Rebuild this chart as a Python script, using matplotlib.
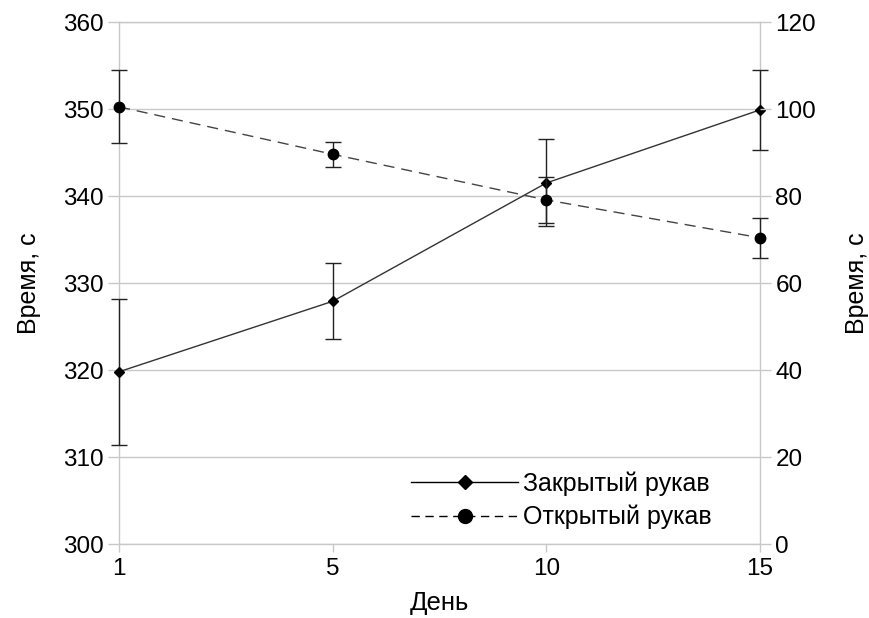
import matplotlib
matplotlib.use("Agg")
import matplotlib.pyplot as plt
from matplotlib.lines import Line2D

plt.rcParams['font.family'] = ['Liberation Sans', 'DejaVu Sans']

days = ['1', '5', '10', '15']
closed_arm = [319.8, 327.9, 341.5, 349.9]
closed_err = [8.4, 4.35, 5.0, 4.6]
open_arm = [100.5, 89.6, 79.1, 70.4]
open_err = [8.4, 2.9, 5.2, 4.6]

left_ticks = [300, 310, 320, 330, 340, 350, 360]
right_ticks = [0, 20, 40, 60, 80, 100, 120]

grid_c = '#c8c8c8'
pos = list(range(len(days)))

fig = plt.figure(figsize=(8.69, 6.18), dpi=100)
ax = fig.add_axes([0.137, 0.1197, 0.7376, 0.8447])
ax2 = ax.twinx()

ax.set_xlim(pos[0], pos[-1])
ax.set_ylim(300, 360)
ax2.set_ylim(0, 120)
ax.set_xticks(pos)
ax.set_xticklabels(days)
ax.set_yticks(left_ticks)
ax2.set_yticks(right_ticks)

ax.yaxis.grid(True, color=grid_c, linewidth=1)
ax.set_axisbelow(True)

for s in ax.spines.values():
    s.set_color(grid_c)
    s.set_linewidth(1)
    s.set_zorder(0.5)
for s in ax2.spines.values():
    s.set_visible(False)
for a in (ax, ax2):
    a.tick_params(axis='both', colors=grid_c, labelcolor='black',
                  labelsize=17.5, length=8, width=1, pad=3)
ax.tick_params(axis='x', length=6, pad=4)

cl = ax.errorbar(pos, closed_arm, yerr=closed_err, color='#333333', linewidth=1,
                 marker='D', markersize=5.5, markerfacecolor='black',
                 markeredgecolor='black', ecolor='#222222', elinewidth=1,
                 capsize=6, capthick=1, zorder=3)
op = ax2.errorbar(pos, open_arm, yerr=open_err, color='#444444', linewidth=1,
                  linestyle=(0, (8, 5)), marker='o', markersize=7.5,
                  markerfacecolor='black', markeredgecolor='black',
                  ecolor='#222222', elinewidth=1, capsize=6, capthick=1, zorder=3)
for container in (cl, op):
    for artist in container.get_children():
        artist.set_clip_on(False)

ax.set_xlabel('День', fontsize=18.5, labelpad=8)
ax.set_ylabel('Время, с', fontsize=18, labelpad=16)
ax2.set_ylabel('Время, с', fontsize=18, labelpad=21, rotation=90)

handles = [
    Line2D([], [], color='black', linewidth=1, marker='D', markersize=7,
           markerfacecolor='black'),
    Line2D([], [], color='black', linewidth=1, linestyle=(0, (6, 4)),
           marker='o', markersize=10, markerfacecolor='black'),
]
ax2.legend(handles, ['Закрытый рукав', 'Открытый рукав'], loc='lower right',
           bbox_to_anchor=(0.96, -0.015), frameon=False, fontsize=18,
           handlelength=4.3, handletextpad=0.2, labelspacing=0.35)

fig.savefig('out.png', dpi=100)
